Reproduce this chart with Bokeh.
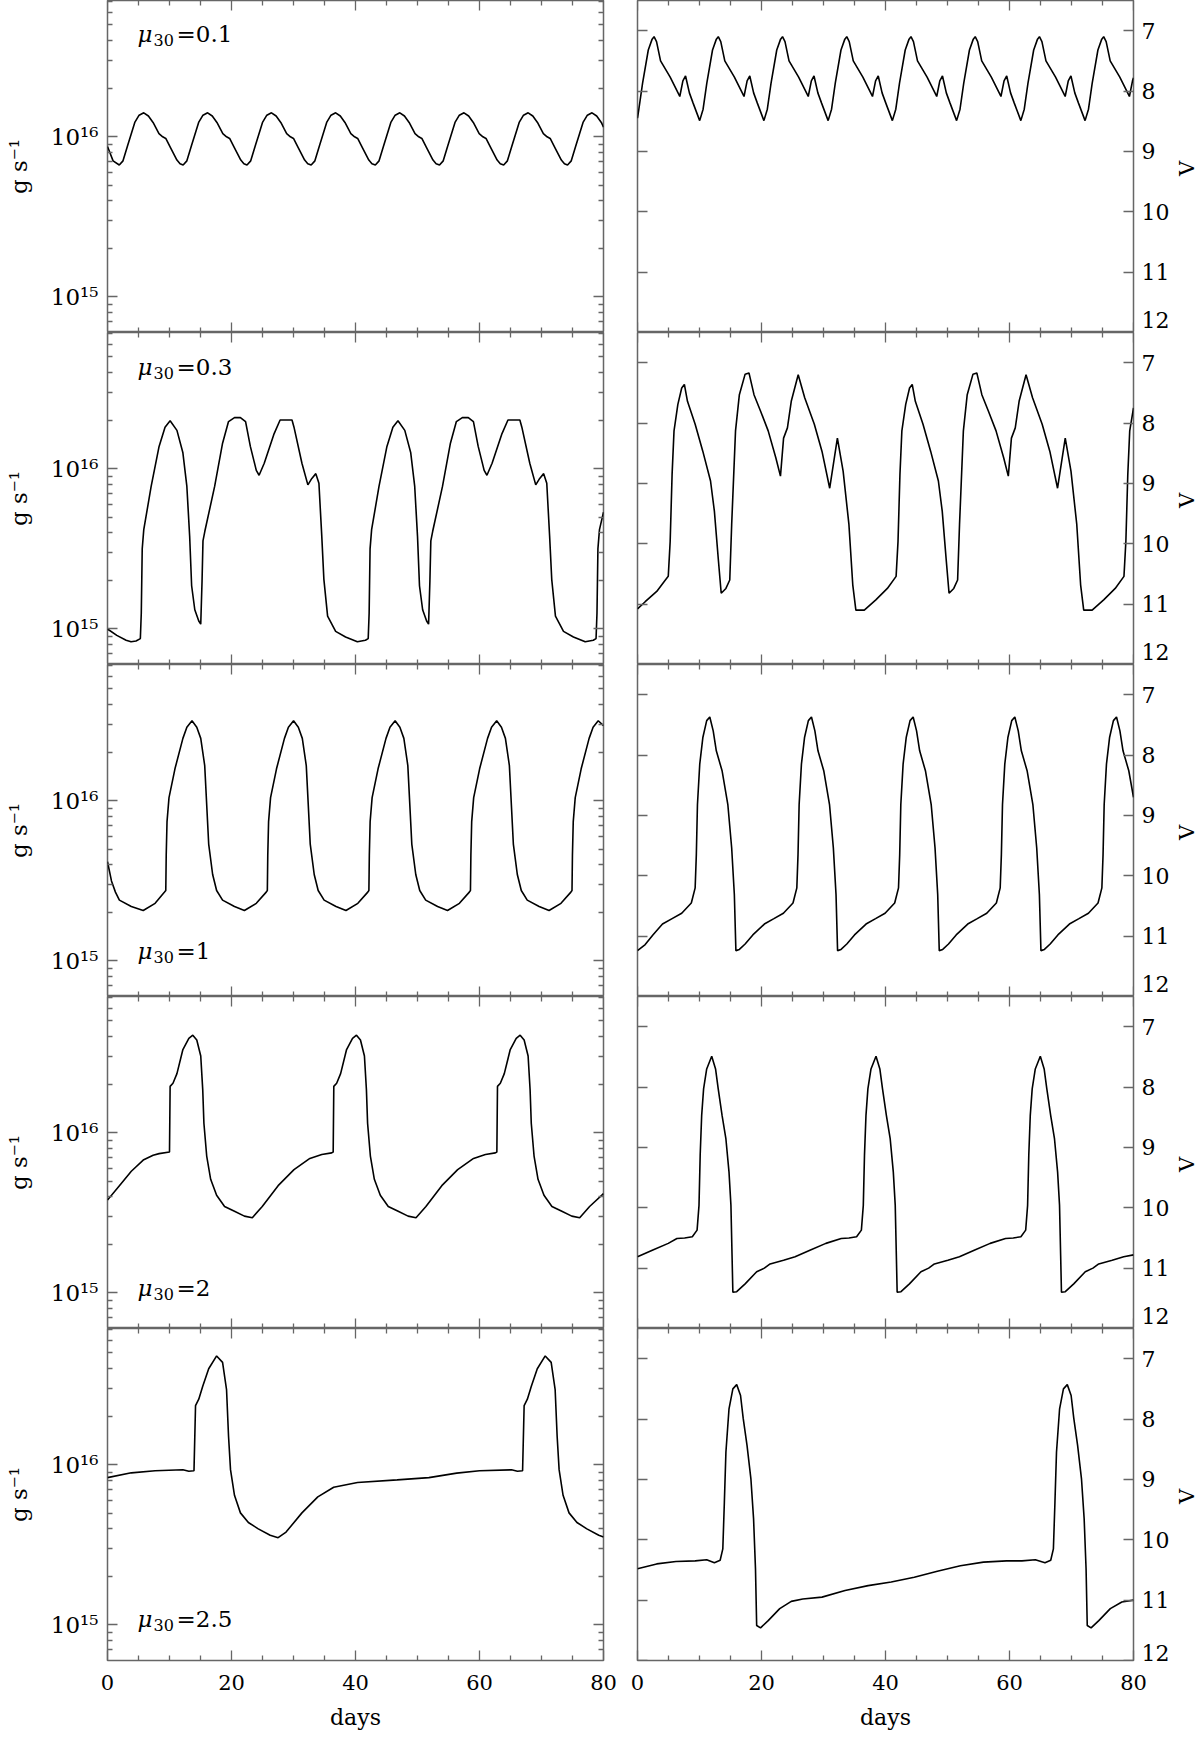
import numpy as np
from bokeh.plotting import figure
from bokeh.models import (Range1d, LinearAxis, LogAxis, FixedTicker, Label, ColumnDataSource,
                          CustomJSTickFormatter, Grid)
from bokeh.layouts import column, row
from bokeh.embed import file_html
from bokeh.resources import INLINE

# ---------------------------------------------------------------- data
mu30_values = ["0.1", "0.3", "1", "2", "2.5"]
day_ticks = [0, 20, 40, 60, 80]
day_minor_ticks = [5, 10, 15, 25, 30, 35, 45, 50, 55, 65, 70, 75]
mdot_ticks = [1e15, 1e16]
mdot_minor_ticks = [7e14, 8e14, 9e14, 2e15, 3e15, 4e15, 5e15, 6e15, 7e15, 8e15, 9e15,
                    2e16, 3e16, 4e16, 5e16, 6e16, 7e16]
vmag_ticks = [7, 8, 9, 10, 11, 12]

# ---- mu30 = 0.1
days_mdot_mu01 = [0.0, 0.9,
    1.9, 2.5, 3.2, 4.4, 5.1, 5.85, 6.6, 7.35, 8.3, 8.9, 9.4, 10.2, 11.2, 11.7,
    12.2, 12.8, 13.5, 14.7, 15.4, 16.15, 16.9, 17.65, 18.6, 19.2, 19.7, 20.5, 21.5, 22.0,
    22.5, 23.1, 23.8, 25.0, 25.7, 26.45, 27.2, 27.95, 28.9, 29.5, 30.0, 30.8, 31.8, 32.3,
    32.85, 33.45, 34.15, 35.35, 36.05, 36.8, 37.55, 38.3, 39.25, 39.85, 40.35, 41.15, 42.15, 42.65,
    43.2, 43.8, 44.5, 45.7, 46.4, 47.15, 47.9, 48.65, 49.6, 50.2, 50.7, 51.5, 52.5, 53.0,
    53.55, 54.15, 54.85, 56.05, 56.75, 57.5, 58.25, 59.0, 59.95, 60.55, 61.05, 61.85, 62.85, 63.35,
    63.9, 64.5, 65.2, 66.4, 67.1, 67.85, 68.6, 69.35, 70.3, 70.9, 71.4, 72.2, 73.2, 73.7,
    74.2, 74.8, 75.5, 76.7, 77.4, 78.15, 78.9, 79.65, 80.0]
log_mdot_mu01 = [15.94, 15.85,
    15.824, 15.85, 15.94, 16.09, 16.135, 16.15, 16.13, 16.09, 16.02, 16.0, 15.99, 15.93, 15.855, 15.832,
    15.824, 15.85, 15.94, 16.09, 16.135, 16.15, 16.13, 16.09, 16.02, 16.0, 15.99, 15.93, 15.855, 15.832,
    15.824, 15.85, 15.94, 16.09, 16.135, 16.15, 16.13, 16.09, 16.02, 16.0, 15.99, 15.93, 15.855, 15.832,
    15.824, 15.85, 15.94, 16.09, 16.135, 16.15, 16.13, 16.09, 16.02, 16.0, 15.99, 15.93, 15.855, 15.832,
    15.824, 15.85, 15.94, 16.09, 16.135, 16.15, 16.13, 16.09, 16.02, 16.0, 15.99, 15.93, 15.855, 15.832,
    15.824, 15.85, 15.94, 16.09, 16.135, 16.15, 16.13, 16.09, 16.02, 16.0, 15.99, 15.93, 15.855, 15.832,
    15.824, 15.85, 15.94, 16.09, 16.135, 16.15, 16.13, 16.09, 16.02, 16.0, 15.99, 15.93, 15.855, 15.832,
    15.824, 15.85, 15.94, 16.09, 16.135, 16.15, 16.13, 16.09, 16.06]
days_vmag_mu01 = [0.0,
    0.22, 0.82, 1.74, 2.36, 2.67, 3.07, 3.72, 5.27, 6.82, 7.32, 7.75, 8.37, 8.97,
    10.03, 10.58, 11.18, 12.1, 12.72, 13.03, 13.43, 14.08, 15.63, 17.18, 17.68, 18.11, 18.73, 19.33,
    20.39, 20.94, 21.54, 22.46, 23.08, 23.39, 23.79, 24.44, 25.99, 27.54, 28.04, 28.47, 29.09, 29.69,
    30.75, 31.3, 31.9, 32.82, 33.44, 33.75, 34.15, 34.8, 36.35, 37.9, 38.4, 38.83, 39.45, 40.05,
    41.11, 41.66, 42.26, 43.18, 43.8, 44.11, 44.51, 45.16, 46.71, 48.26, 48.76, 49.19, 49.81, 50.41,
    51.47, 52.02, 52.62, 53.54, 54.16, 54.47, 54.87, 55.52, 57.07, 58.62, 59.12, 59.55, 60.17, 60.77,
    61.83, 62.38, 62.98, 63.9, 64.52, 64.83, 65.23, 65.88, 67.43, 68.98, 69.48, 69.91, 70.53, 71.13,
    72.19, 72.74, 73.34, 74.26, 74.88, 75.19, 75.59, 76.24, 77.79, 79.34, 79.84, 80.0]
vmag_mu01 = [8.45,
    8.3, 7.87, 7.32, 7.14, 7.1, 7.18, 7.5, 7.77, 8.09, 7.83, 7.75, 8.03, 8.2,
    8.49, 8.3, 7.87, 7.32, 7.14, 7.1, 7.18, 7.5, 7.77, 8.09, 7.83, 7.75, 8.03, 8.2,
    8.49, 8.3, 7.87, 7.32, 7.14, 7.1, 7.18, 7.5, 7.77, 8.09, 7.83, 7.75, 8.03, 8.2,
    8.49, 8.3, 7.87, 7.32, 7.14, 7.1, 7.18, 7.5, 7.77, 8.09, 7.83, 7.75, 8.03, 8.2,
    8.49, 8.3, 7.87, 7.32, 7.14, 7.1, 7.18, 7.5, 7.77, 8.09, 7.83, 7.75, 8.03, 8.2,
    8.49, 8.3, 7.87, 7.32, 7.14, 7.1, 7.18, 7.5, 7.77, 8.09, 7.83, 7.75, 8.03, 8.2,
    8.49, 8.3, 7.87, 7.32, 7.14, 7.1, 7.18, 7.5, 7.77, 8.09, 7.83, 7.75, 8.03, 8.2,
    8.49, 8.3, 7.87, 7.32, 7.14, 7.1, 7.18, 7.5, 7.77, 8.09, 7.83, 7.78]

# ---- mu30 = 0.3
days_mdot_mu03 = [0.0, 1.5, 3.0, 3.8, 4.6, 5.3,
    5.45, 5.6, 5.85, 7.04, 8.32, 9.28, 10.1, 11.2, 12.16, 12.8, 13.25, 13.57, 14.08, 14.72, 15.04,
    15.25, 15.4, 15.7, 17.28, 18.56, 19.52, 20.48, 21.44, 22.27, 23.04, 24.0, 24.45, 25.28, 26.88,
    27.84, 29.76, 30.08, 31.36, 32.32, 32.96, 33.6, 34.1, 34.56, 34.9, 35.5, 36.8, 38.4, 40.3, 41.6, 42.05,
    42.2, 42.35, 42.6, 43.79, 45.07, 46.03, 46.85, 47.95, 48.91, 49.55, 50.0, 50.32, 50.83, 51.47, 51.79,
    52.0, 52.15, 52.45, 54.03, 55.31, 56.27, 57.23, 58.19, 59.02, 59.79, 60.75, 61.2, 62.03, 63.63,
    64.59, 66.51, 66.83, 68.11, 69.07, 69.71, 70.35, 70.85, 71.31, 71.65, 72.25, 73.55, 75.15, 77.05, 78.35, 78.8,
    78.95, 79.1, 79.35, 80.0]
log_mdot_mu03 = [15.00, 14.96, 14.93, 14.92, 14.925, 14.94,
    15.1, 15.5, 15.62, 15.89, 16.14, 16.26, 16.30, 16.24, 16.10, 15.89, 15.58, 15.27, 15.12, 15.05, 15.03,
    15.3, 15.55, 15.61, 15.89, 16.16, 16.295, 16.32, 16.32, 16.295, 16.14, 15.99, 15.96, 16.035, 16.22,
    16.305, 16.305, 16.26, 16.035, 15.90, 15.94, 15.97, 15.91, 15.58, 15.31, 15.08, 14.985, 14.95, 14.92, 14.93, 14.94,
    15.1, 15.5, 15.62, 15.89, 16.14, 16.26, 16.30, 16.24, 16.10, 15.89, 15.58, 15.27, 15.12, 15.05, 15.03,
    15.3, 15.55, 15.61, 15.89, 16.16, 16.295, 16.32, 16.32, 16.295, 16.14, 15.99, 15.96, 16.035, 16.22,
    16.305, 16.305, 16.26, 16.035, 15.90, 15.94, 15.97, 15.91, 15.58, 15.31, 15.08, 14.985, 14.95, 14.92, 14.93, 14.94,
    15.1, 15.5, 15.62, 15.73]
days_vmag_mu03 = [0.0, 1.24, 3.1, 4.34, 4.96, 5.27, 5.58, 5.89, 6.51, 7.13, 7.56, 8.06, 9.3, 10.54, 11.78,
    12.4, 13.02, 13.5, 14.26, 14.88, 15.19, 15.81, 16.43, 17.36, 17.98, 18.79, 19.84, 21.08, 22.32, 23.06,
    23.56, 24.18, 24.8, 25.92, 26.97, 28.52, 29.76, 31.0, 32.24, 33.17, 34.1, 34.72, 35.22, 36.58, 38.44, 40.3,
    41.71, 42.02, 42.33, 42.64, 43.26, 43.88, 44.31, 44.81, 46.05, 47.29, 48.53, 49.15, 49.77, 50.25, 51.01,
    51.63, 51.94, 52.56, 53.18, 54.11, 54.73, 55.54, 56.59, 57.83, 59.07, 59.81, 60.31, 60.93, 61.55, 62.67,
    63.72, 65.27, 66.51, 67.75, 68.99, 69.92, 70.85, 71.47, 71.97, 73.33, 75.19, 77.05,
    78.46, 78.77, 79.08, 79.39, 80.0]
vmag_mu03 = [11.08, 10.96, 10.79, 10.62, 10.54, 9.96, 8.85, 8.13, 7.69, 7.42, 7.36, 7.64, 8.02, 8.47, 8.96,
    9.46, 10.24, 10.82, 10.74, 10.6, 9.68, 8.13, 7.53, 7.19, 7.17, 7.53, 7.8, 8.13, 8.58, 8.88,
    8.25, 8.08, 7.64, 7.2, 7.58, 8.02, 8.47, 9.08, 8.25, 8.8, 9.68, 10.68, 11.1, 11.1, 10.93, 10.74,
    10.54, 9.96, 8.85, 8.13, 7.69, 7.42, 7.36, 7.64, 8.02, 8.47, 8.96, 9.46, 10.24, 10.82, 10.74,
    10.6, 9.68, 8.13, 7.53, 7.19, 7.17, 7.53, 7.8, 8.13, 8.58, 8.88, 8.25, 8.08, 7.64, 7.2,
    7.58, 8.02, 8.47, 9.08, 8.25, 8.8, 9.68, 10.68, 11.1, 11.1, 10.93, 10.74,
    10.54, 9.96, 8.85, 8.13, 7.75]

# ---- mu30 = 1
days_mdot_mu1 = [0.0, 0.64, 1.28, 1.92, 3.84, 5.76, 7.68, 9.2,
    9.4, 9.47, 9.6, 9.92, 10.88, 12.16, 12.8, 13.63, 14.4, 15.04, 15.68, 16.0, 16.32, 16.96, 17.6, 18.56, 20.48, 22.08, 24.0, 25.6,
    25.78, 25.85, 25.98, 26.3, 27.26, 28.54, 29.18, 30.01, 30.78, 31.42, 32.06, 32.38, 32.7, 33.34, 33.98, 34.94, 36.86, 38.46, 40.38, 41.98,
    42.16, 42.23, 42.36, 42.68, 43.64, 44.92, 45.56, 46.39, 47.16, 47.8, 48.44, 48.76, 49.08, 49.72, 50.36, 51.32, 53.24, 54.84, 56.76, 58.36,
    58.54, 58.61, 58.74, 59.06, 60.02, 61.3, 61.94, 62.77, 63.54, 64.18, 64.82, 65.14, 65.46, 66.1, 66.74, 67.7, 69.62, 71.22, 73.14, 74.74,
    74.92, 74.99, 75.12, 75.44, 76.4, 77.68, 78.32, 79.15, 80.0]
log_mdot_mu1 = [15.62, 15.50, 15.43, 15.38, 15.34, 15.315, 15.36, 15.43,
    15.44, 15.66, 15.87, 16.02, 16.2, 16.39, 16.46, 16.50, 16.46, 16.39, 16.22, 15.975, 15.73, 15.54, 15.44, 15.38, 15.34, 15.315, 15.36, 15.43,
    15.44, 15.66, 15.87, 16.02, 16.2, 16.39, 16.46, 16.50, 16.46, 16.39, 16.22, 15.975, 15.73, 15.54, 15.44, 15.38, 15.34, 15.315, 15.36, 15.43,
    15.44, 15.66, 15.87, 16.02, 16.2, 16.39, 16.46, 16.50, 16.46, 16.39, 16.22, 15.975, 15.73, 15.54, 15.44, 15.38, 15.34, 15.315, 15.36, 15.43,
    15.44, 15.66, 15.87, 16.02, 16.2, 16.39, 16.46, 16.50, 16.46, 16.39, 16.22, 15.975, 15.73, 15.54, 15.44, 15.38, 15.34, 15.315, 15.36, 15.43,
    15.44, 15.66, 15.87, 16.02, 16.2, 16.39, 16.46, 16.50, 16.47]
days_vmag_mu1 = [0.0, 1.24, 2.48, 4.03, 5.58, 7.13, 8.68, 9.3,
    9.49, 9.67, 10.04, 10.54, 11.16, 11.66, 12.21, 12.71, 13.64, 14.57, 15.19, 15.62, 15.87, 16.43, 17.36, 18.6, 20.46, 22.0, 23.53, 25.08, 25.7,
    25.89, 26.07, 26.44, 26.94, 27.56, 28.06, 28.61, 29.11, 30.04, 30.97, 31.59, 32.02, 32.27, 32.83, 33.76, 35.0, 36.86, 38.4, 39.93, 41.48, 42.1,
    42.29, 42.47, 42.84, 43.34, 43.96, 44.46, 45.01, 45.51, 46.44, 47.37, 47.99, 48.42, 48.67, 49.23, 50.16, 51.4, 53.26, 54.8, 56.33, 57.88, 58.5,
    58.69, 58.87, 59.24, 59.74, 60.36, 60.86, 61.41, 61.91, 62.84, 63.77, 64.39, 64.82, 65.07, 65.63, 66.56, 67.8, 69.66, 71.2, 72.73, 74.28, 74.9,
    75.09, 75.27, 75.64, 76.14, 76.76, 77.26, 77.81, 78.31, 79.24, 80.0]
vmag_mu1 = [11.24, 11.14, 10.98, 10.8, 10.71, 10.62, 10.45, 10.2,
    9.65, 8.82, 8.15, 7.71, 7.43, 7.37, 7.6, 7.93, 8.26, 8.82, 9.54, 10.31, 11.24, 11.22, 11.13, 10.98, 10.8, 10.71, 10.62, 10.45, 10.2,
    9.65, 8.82, 8.15, 7.71, 7.43, 7.37, 7.6, 7.93, 8.26, 8.82, 9.54, 10.31, 11.24, 11.22, 11.13, 10.98, 10.8, 10.71, 10.62, 10.45, 10.2,
    9.65, 8.82, 8.15, 7.71, 7.43, 7.37, 7.6, 7.93, 8.26, 8.82, 9.54, 10.31, 11.24, 11.22, 11.13, 10.98, 10.8, 10.71, 10.62, 10.45, 10.2,
    9.65, 8.82, 8.15, 7.71, 7.43, 7.37, 7.6, 7.93, 8.26, 8.82, 9.54, 10.31, 11.24, 11.22, 11.13, 10.98, 10.8, 10.71, 10.62, 10.45, 10.2,
    9.65, 8.82, 8.15, 7.71, 7.43, 7.37, 7.6, 7.93, 8.26, 8.7]

# ---- mu30 = 2
days_mdot_mu2 = [0.0, 1.92, 3.84, 5.76, 7.36, 8.32,
    10.0, 10.1, 10.56, 11.2, 12.16, 13.12, 13.76, 14.4, 15.04, 15.36, 15.55, 16.0, 16.64, 17.6, 18.88, 20.48, 22.08, 23.36, 24.96, 27.52, 30.08, 32.64, 34.56, 36.16,
    36.4, 36.5, 36.96, 37.6, 38.56, 39.52, 40.16, 40.8, 41.44, 41.76, 41.95, 42.4, 43.04, 44.0, 45.28, 46.88, 48.48, 49.76, 51.36, 53.92, 56.48, 59.04, 60.96, 62.56,
    62.8, 62.9, 63.36, 64.0, 64.96, 65.92, 66.56, 67.2, 67.84, 68.16, 68.35, 68.8, 69.44, 70.4, 71.68, 73.28, 74.88, 76.16, 77.76, 80.0]
log_mdot_mu2 = [15.58, 15.67, 15.76, 15.83, 15.86, 15.87,
    15.88, 16.29, 16.31, 16.37, 16.52, 16.59, 16.61, 16.58, 16.48, 16.27, 16.06, 15.855, 15.71, 15.61, 15.54, 15.51, 15.48, 15.47, 15.54, 15.67, 15.77, 15.84, 15.865, 15.875,
    15.88, 16.29, 16.31, 16.37, 16.52, 16.59, 16.61, 16.58, 16.48, 16.27, 16.06, 15.855, 15.71, 15.61, 15.54, 15.51, 15.48, 15.47, 15.54, 15.67, 15.77, 15.84, 15.865, 15.875,
    15.88, 16.29, 16.31, 16.37, 16.52, 16.59, 16.61, 16.58, 16.48, 16.27, 16.06, 15.855, 15.71, 15.61, 15.54, 15.51, 15.48, 15.47, 15.54, 15.62]
days_vmag_mu2 = [0.0, 2.48, 4.96, 6.36, 7.6, 8.84,
    9.61, 9.92, 10.11, 10.35, 10.66, 11.16, 11.97, 12.59, 13.02, 13.64, 14.26, 14.76, 15.07, 15.25, 15.38, 16.0, 17.36, 19.22, 20.46, 21.39, 23.56, 25.42, 27.9, 30.38, 32.86, 34.1, 35.34,
    36.11, 36.42, 36.61, 36.85, 37.16, 37.66, 38.47, 39.09, 39.52, 40.14, 40.76, 41.26, 41.57, 41.75, 41.88, 42.5, 43.86, 45.72, 46.96, 47.89, 50.06, 51.92, 54.4, 56.88, 59.36, 60.6, 61.84,
    62.61, 62.92, 63.11, 63.35, 63.66, 64.16, 64.97, 65.59, 66.02, 66.64, 67.26, 67.76, 68.07, 68.25, 68.38, 69.0, 70.36, 72.22, 73.46, 74.39, 76.56, 78.42, 80.0]
vmag_mu2 = [10.81, 10.7, 10.59, 10.51, 10.5, 10.48,
    10.37, 9.96, 9.13, 8.47, 8.03, 7.7, 7.49, 7.7, 8.03, 8.47, 8.86, 9.41, 9.96, 10.79, 11.4, 11.39, 11.26, 11.06, 11.0, 10.93, 10.87, 10.81, 10.7, 10.59, 10.51, 10.5, 10.48,
    10.37, 9.96, 9.13, 8.47, 8.03, 7.7, 7.49, 7.7, 8.03, 8.47, 8.86, 9.41, 9.96, 10.79, 11.4, 11.39, 11.26, 11.06, 11.0, 10.93, 10.87, 10.81, 10.7, 10.59, 10.51, 10.5, 10.48,
    10.37, 9.96, 9.13, 8.47, 8.03, 7.7, 7.49, 7.7, 8.03, 8.47, 8.86, 9.41, 9.96, 10.79, 11.4, 11.39, 11.26, 11.06, 11.0, 10.93, 10.87, 10.81, 10.78]

# ---- mu30 = 2.5
days_mdot_mu25 = [0.0, 3.84, 7.68, 12.16, 13.12, 13.95, 14.2, 14.72, 15.36, 16.32, 17.6, 18.56, 19.2, 19.52,
    19.84, 20.48, 21.44, 22.72, 24.32, 26.24, 27.52, 28.8, 31.36, 33.92, 36.48, 40.32, 46.72, 51.84, 56.32,
    60.0, 65.16, 66.12, 66.95, 67.2, 67.72, 68.36, 69.32, 70.6, 71.56, 72.2, 72.52, 72.84, 73.48, 74.44,
    75.72, 77.32, 79.24, 80.0]
log_mdot_mu25 = [15.92, 15.95, 15.963, 15.969, 15.96, 15.963, 16.37, 16.41, 16.49, 16.6, 16.68, 16.64, 16.47, 16.18,
    15.97, 15.81, 15.70, 15.64, 15.6, 15.56, 15.545, 15.58, 15.70, 15.80, 15.86, 15.89, 15.906, 15.92, 15.948,
    15.963, 15.969, 15.96, 15.963, 16.37, 16.41, 16.49, 16.6, 16.68, 16.64, 16.47, 16.18, 15.97, 15.81, 15.70,
    15.64, 15.6, 15.56, 15.55]
days_vmag_mu25 = [0.0, 3.1, 6.2, 9.3, 11.16, 12.4, 13.33, 13.76, 14.01, 14.26, 14.76, 15.38, 16.0, 16.62, 17.05,
    17.67, 18.29, 18.72, 19.03, 19.22, 19.84, 21.08, 22.94, 24.8, 26.66, 29.76, 33.48, 37.2, 40.92, 44.64,
    48.36, 52.08, 55.8, 59.52, 62.0, 64.17, 65.72, 66.65, 67.08, 67.33, 67.58, 68.08, 68.7, 69.32, 69.94,
    70.37, 70.99, 71.61, 72.04, 72.35, 72.54, 73.16, 74.4, 76.26, 78.12, 80.0]
vmag_mu25 = [10.48, 10.4, 10.36, 10.35, 10.33, 10.38, 10.34, 10.15, 9.38, 8.55, 7.83, 7.5, 7.43, 7.61, 7.99,
    8.44, 8.99, 9.65, 10.48, 11.42, 11.46, 11.34, 11.14, 11.02, 10.98, 10.95, 10.84, 10.76, 10.7, 10.62,
    10.52, 10.43, 10.37, 10.35, 10.35, 10.33, 10.38, 10.34, 10.15, 9.38, 8.55, 7.83, 7.5, 7.43, 7.61,
    7.99, 8.44, 8.99, 9.65, 10.48, 11.42, 11.46, 11.34, 11.14, 11.03, 11.0]

mdot_series = [(days_mdot_mu01, log_mdot_mu01), (days_mdot_mu03, log_mdot_mu03),
               (days_mdot_mu1, log_mdot_mu1), (days_mdot_mu2, log_mdot_mu2),
               (days_mdot_mu25, log_mdot_mu25)]
vmag_series = [(days_vmag_mu01, vmag_mu01), (days_vmag_mu03, vmag_mu03),
               (days_vmag_mu1, vmag_mu1), (days_vmag_mu2, vmag_mu2),
               (days_vmag_mu25, vmag_mu25)]
for a, b in mdot_series + vmag_series:
    assert len(a) == len(b), (len(a), len(b))

# ---------------------------------------------------------------- style
FONT = "DejaVu Serif"
GRAY = "#666666"
FRAME_W = 496
FRAME_H = 332
BOTTOM_BORDER = 77
MDOT_LO, MDOT_HI = 6e14, 7.1e16
V_LO, V_HI = 12.0, 6.5
LEFT_B, MID_B, RIGHT_B = 107, 17, 42
VSTRIP_W = 24
MU_BASE = [103, 102, 10, 5, 6]          # label position (px) relative to an axis tick

POW10 = CustomJSTickFormatter(code="""
const sup = {"0":"\u2070","1":"\u00b9","2":"\u00b2","3":"\u00b3","4":"\u2074",
             "5":"\u2075","6":"\u2076","7":"\u2077","8":"\u2078","9":"\u2079","-":"\u207b"};
const e = String(Math.round(Math.log10(tick)));
return "10" + e.split("").map(c => sup[c]).join("");
""")
ROUND_INT = CustomJSTickFormatter(code="return String(Math.round(tick));")


def style_ticks(ax, ticks_on=True):
    ax.axis_line_color = None
    ax.major_tick_out = 0
    ax.minor_tick_out = 0
    ax.major_tick_in = 10 if ticks_on else 0
    ax.minor_tick_in = 5 if ticks_on else 0
    ax.major_tick_line_color = GRAY if ticks_on else None
    ax.minor_tick_line_color = GRAY if ticks_on else None
    ax.major_tick_line_width = 1.3
    ax.minor_tick_line_width = 1.3


def day_ticker():
    return FixedTicker(ticks=day_ticks, minor_ticks=day_minor_ticks)


def make_panel(i, log):
    last = (i == 4)
    p = figure(width=(LEFT_B + FRAME_W + MID_B) if log else (MID_B + FRAME_W + RIGHT_B),
               height=FRAME_H + (BOTTOM_BORDER if last else 0),
               x_range=Range1d(0, 80),
               y_range=Range1d(MDOT_LO, MDOT_HI) if log else Range1d(V_LO, V_HI),
               y_axis_type="log" if log else "linear",
               x_axis_location=None, y_axis_location=None,
               output_backend="svg", toolbar_location=None,
               min_border_left=LEFT_B if log else MID_B,
               min_border_right=MID_B if log else RIGHT_B,
               min_border_top=0, min_border_bottom=BOTTOM_BORDER if last else 0)
    p.outline_line_color = GRAY
    p.outline_line_width = 1.5
    p.background_fill_color = "white"
    p.border_fill_color = "white"

    if log:
        la = LogAxis(ticker=FixedTicker(ticks=mdot_ticks, minor_ticks=mdot_minor_ticks),
                     formatter=POW10, axis_label="g s\u207b\u00b9")
        style_ticks(la)
        la.major_label_text_font = FONT
        la.major_label_text_font_size = "23px"
        la.major_label_text_color = "black"
        la.major_label_standoff = 9
        la.axis_label_text_font = FONT
        la.axis_label_text_font_size = "23px"
        la.axis_label_text_font_style = "normal"
        la.axis_label_text_color = "black"
        la.axis_label_standoff = 16
        p.add_layout(la, "left")
        ra = LogAxis(ticker=FixedTicker(ticks=mdot_ticks, minor_ticks=mdot_minor_ticks),
                     fixed_location=80, major_label_text_color=None)
        style_ticks(ra)
        p.add_layout(ra, "right")
    else:
        la = LinearAxis(ticker=FixedTicker(ticks=vmag_ticks, minor_ticks=[]),
                        fixed_location=0, major_label_text_color=None)
        style_ticks(la)
        p.add_layout(la, "left")
        rt = LinearAxis(ticker=FixedTicker(ticks=vmag_ticks, minor_ticks=[]),
                        fixed_location=80, major_label_text_color=None)
        style_ticks(rt)
        p.add_layout(rt, "right")
        # magnitude numbers (lowest one kept inside the panel, as in the original)
        label_pos = [7, 8, 9, 10, 11, 11.87 if last else 11.8]
        ra = LinearAxis(ticker=FixedTicker(ticks=label_pos, minor_ticks=[]),
                        formatter=ROUND_INT)
        style_ticks(ra, ticks_on=False)
        ra.major_label_text_font = FONT
        ra.major_label_text_font_size = "22px"
        ra.major_label_text_color = "black"
        ra.major_label_standoff = 8
        p.add_layout(ra, "right")

    top = LinearAxis(ticker=day_ticker(), fixed_location=(MDOT_HI if log else V_HI),
                     major_label_text_color=None)
    style_ticks(top)
    p.add_layout(top, "above")
    if last:
        bot = LinearAxis(ticker=day_ticker(), axis_label="days")
        bot.major_label_text_font = FONT
        bot.major_label_text_font_size = "21px"
        bot.major_label_text_color = "black"
        bot.major_label_standoff = 14
        bot.axis_label_text_font = FONT
        bot.axis_label_text_font_size = "22px"
        bot.axis_label_text_font_style = "normal"
        bot.axis_label_text_color = "black"
        bot.axis_label_standoff = 12
    else:
        bot = LinearAxis(ticker=day_ticker(), fixed_location=(MDOT_LO if log else V_LO),
                         major_label_text_color=None)
    style_ticks(bot)
    p.add_layout(bot, "below")

    for g in p.select(type=Grid):
        g.visible = False
    return p


def make_vstrip(i):
    """narrow strip right of a magnitude panel that carries the axis name V (written upwards)"""
    last = (i == 4)
    s = figure(width=VSTRIP_W, height=FRAME_H + (BOTTOM_BORDER if last else 0),
               x_range=Range1d(0, VSTRIP_W), y_range=Range1d(V_LO, V_HI),
               x_axis_location=None, y_axis_location=None,
               output_backend="svg", toolbar_location=None,
               min_border_left=0, min_border_right=0, min_border_top=0,
               min_border_bottom=BOTTOM_BORDER if last else 0)
    s.outline_line_color = None
    s.background_fill_color = "white"
    s.border_fill_color = "white"
    for g in s.select(type=Grid):
        g.visible = False
    s.add_layout(Label(x=11, y=9.28, text="V", angle=float(np.pi / 2),
                       text_font=FONT, text_font_size="21px", text_color="black",
                       text_align="center", text_baseline="middle"))
    return s


def lbl(p, x, y, text, dx, dy, size, style="normal"):
    p.add_layout(Label(x=x, y=y, text=text, x_offset=dx, y_offset=dy,
                       text_font=FONT, text_font_size=size, text_font_style=style,
                       text_align="left", text_baseline="middle", text_color="black"))


rows = []
for i in range(5):
    pl = make_panel(i, True)
    d, lg = mdot_series[i]
    src = ColumnDataSource(dict(t=d, mdot=10.0 ** np.array(lg)))
    pl.line("t", "mdot", source=src, line_color="black", line_width=1.6)
    anchor = 1e16 if i < 2 else 1e15
    base = MU_BASE[i]
    lbl(pl, 0, anchor, "\u03bc", 30, base, "23px", style="italic")
    lbl(pl, 0, anchor, "30", 46, base - 6, "16px")
    lbl(pl, 0, anchor, "=" + mu30_values[i], 69, base, "23px")

    pr = make_panel(i, False)
    d, vm = vmag_series[i]
    src = ColumnDataSource(dict(t=d, v=vm))
    pr.line("t", "v", source=src, line_color="black", line_width=1.6)

    rows.append(row(pl, pr, make_vstrip(i)))

layout = column(*rows)
open("out.html", "w").write(file_html(layout, INLINE))
